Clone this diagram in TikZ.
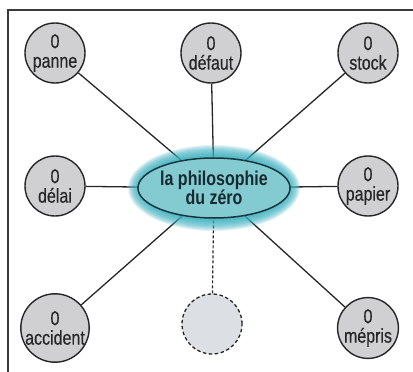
\documentclass[tikz,border=0pt]{standalone}
\usepackage{fontspec}
\setmainfont{Liberation Sans}[FakeStretch=0.8]
\newfontfamily\disclabel{Liberation Sans}[FakeStretch=0.8, FakeBold=0.4]
\usetikzlibrary{shapes.geometric,backgrounds}
\definecolor{inkline}{HTML}{262626}
\definecolor{discgray}{HTML}{D0D0D3}
\definecolor{ghostgray}{HTML}{DCE0E5}
\definecolor{hubfill}{HTML}{84CAD1}
\definecolor{hubglow}{HTML}{3AAEBE}
\definecolor{hubedge}{HTML}{1A363D}
\definecolor{frameline}{HTML}{3A3A3A}
\tikzset{
  zero/.style={circle, draw=inkline, line width=1.4pt, fill=discgray,
    minimum size=60pt, inner sep=0pt, align=center, text=inkline,
    font=\disclabel\fontsize{20}{19.5}\selectfont},
  ghost/.style={circle, draw=inkline, line width=1.3pt,
    dash pattern=on 3.5pt off 2.5pt, fill=ghostgray, minimum size=60pt},
  hub/.style={ellipse, draw=hubedge, line width=1.5pt, fill=hubfill,
    minimum width=146pt, minimum height=60pt, inner sep=0pt, align=center,
    text=hubedge!80!black, font=\bfseries\fontsize{20}{19.5}\selectfont},
  spoke/.style={draw=inkline, line width=1.3pt},
  dottedspoke/.style={draw=inkline, line width=1.2pt, dash pattern=on 3pt off 2pt}
}
\begin{document}
\begin{tikzpicture}[x=1pt, y=-1pt]
\useasboundingbox (0,0) rectangle (413,372);
\clip (0,0) rectangle (413,372);
\draw[frameline, line width=1.4pt] (8,10) rectangle (440,400);

% central idea
\node[hub] (hub) at (214,188) {la philosophie\\du zéro};

% the eight "zero" targets
\node[zero] (panne)    at (55,53)   {0\\panne};
\node[zero] (defaut)   at (211,53)  {0\\défaut};
\node[zero] (stock)    at (368,53)  {0\\stock};
\node[zero] (delai)    at (55,186)  {0\\délai};
\node[zero] (papier)   at (368,186) {0\\papier};
\node[zero] (accident) at (55,328)  {0\\accident};
\node[ghost] (open)    at (212,324) {};
\node[zero] (mepris)   at (368,328) {0\\mépris};

\begin{scope}[on background layer]
  \foreach \n in {panne,defaut,stock,delai,papier,accident,mepris}
    \path[spoke] (\n) -- (hub.center);
  \path[dottedspoke] (open) -- (hub.center);
  % soft halo around the central ellipse
  \foreach \k in {13,12,...,1}
    \fill[hubglow, opacity=0.15] (hub.center) ellipse [x radius={73+\k}, y radius={30+\k}];
\end{scope}
\end{tikzpicture}
\end{document}
